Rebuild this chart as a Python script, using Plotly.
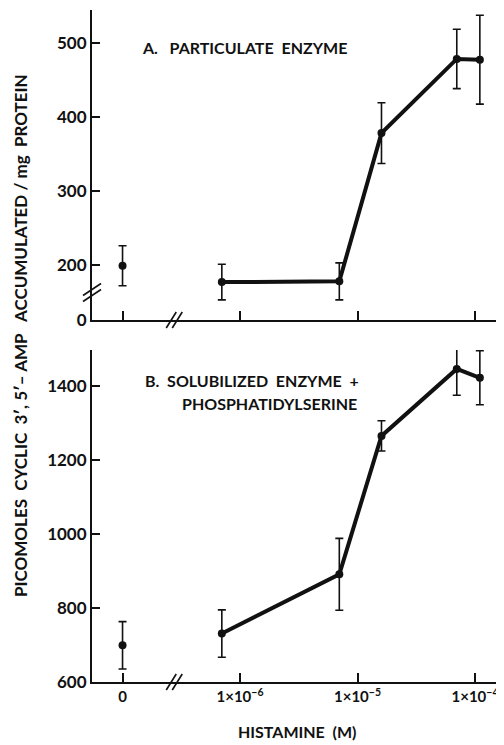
import numpy as np
import plotly.graph_objects as go

# ---------------- data ----------------
histamine_M = [0, 7e-7, 7e-6, 1.6e-5, 7e-5, 1.1e-4]

# Panel A: particulate enzyme
a_values = [199, 177, 178, 378, 478, 477]
a_errors = [27, 24, 25, 41, 40, 60]

# Panel B: solubilized enzyme + phosphatidylserine
b_values = [699, 731, 891, 1265, 1446, 1422]
b_errors = [64, 64, 97, 41, 71, 73]

x_tick_vals = [0, 1e-6, 1e-5, 1e-4]
x_tick_text = ["0", "1×10<sup>−6</sup>", "1×10<sup>−5</sup>", "1×10<sup>−4</sup>"]

a_tick_vals = [200, 300, 400, 500]
b_tick_vals = [600, 800, 1000, 1200, 1400]

# ---------------- axis-break mapping ----------------
ZERO_POS = -7.0          # where "0" concentration sits on the broken log axis
A_BREAK_BOTTOM = 125.9   # value where panel A's broken axis shows "0"


def xpos(c):
    return [ZERO_POS if v == 0 else float(np.log10(v)) for v in c]


xs = xpos(histamine_M)
xt = xpos(x_tick_vals)

FONT = "Lato"
BLACK = "#111111"

fig = go.Figure()


def add_panel(vals, errs, xa, ya):
    # isolated control point (0 M)
    fig.add_trace(go.Scatter(
        x=xs[:1], y=vals[:1], xaxis=xa, yaxis=ya, mode="markers",
        marker=dict(size=8, color=BLACK),
        error_y=dict(type="data", array=errs[:1], thickness=1.6, width=4, color=BLACK),
        showlegend=False, hoverinfo="skip"))
    # connected dose-response series
    fig.add_trace(go.Scatter(
        x=xs[1:], y=vals[1:], xaxis=xa, yaxis=ya, mode="lines+markers",
        line=dict(color=BLACK, width=4),
        marker=dict(size=8, color=BLACK),
        error_y=dict(type="data", array=errs[1:], thickness=1.6, width=4, color=BLACK),
        showlegend=False, hoverinfo="skip"))


add_panel(a_values, a_errors, "x", "y")
add_panel(b_values, b_errors, "x2", "y2")

tickfont = dict(family=FONT, size=17, color=BLACK, weight="bold")
xtickfont = dict(family=FONT, size=15, color=BLACK, weight="bold")
xrange = [-7.26, -3.753]

common_x = dict(range=xrange, showline=True, linewidth=2, linecolor=BLACK,
                ticks="inside", ticklen=9, tickwidth=2, tickcolor=BLACK,
                tickvals=xt, ticktext=x_tick_text, showgrid=False, zeroline=False,
                tickfont=xtickfont)
common_y = dict(showline=True, linewidth=2, linecolor=BLACK,
                ticks="inside", ticklen=8, tickwidth=2, tickcolor=BLACK,
                showgrid=False, zeroline=False, tickfont=tickfont)

# page body has an 8px default margin, so the figure is drawn 8px in from the corner
fig.update_layout(
    width=496, height=737,
    margin=dict(l=84, r=0, t=2, b=63),
    paper_bgcolor="white", plot_bgcolor="white",
    xaxis=dict(**common_x, anchor="y", showticklabels=False),
    yaxis=dict(**common_y, domain=[0.5387, 1.0], range=[A_BREAK_BOTTOM, 544],
               tickvals=[A_BREAK_BOTTOM] + a_tick_vals,
               ticktext=["0"] + [str(v) for v in a_tick_vals]),
    xaxis2=dict(**common_x, anchor="y2", showticklabels=True),
    yaxis2=dict(**common_y, domain=[0.0, 0.494], range=[600, 1497],
                tickvals=b_tick_vals, ticktext=[str(v) for v in b_tick_vals]),
)

label_font = dict(family=FONT, size=16, color=BLACK, weight="bold")
NB = "\u00a0"
annos = [
    dict(text=f"A.{NB*3}PARTICULATE{NB*2}ENZYME", x=0.1165, y=0.9435,
         xanchor="left", yanchor="middle"),
    dict(text=f"B.{NB*2}SOLUBILIZED{NB*2}ENZYME{NB*2}+", x=0.1238, y=0.4494,
         xanchor="left", yanchor="middle"),
    dict(text="PHOSPHATIDYLSERINE", x=0.2136, y=0.4137,
         xanchor="left", yanchor="middle"),
    dict(text=f"PICOMOLES{NB*2}CYCLIC{NB*2}3′,{NB}5′–{NB}AMP{NB*3}ACCUMULATED{NB}/{NB}mg{NB*2}PROTEIN",
         x=-0.1723, y=0.5149, textangle=-90, xanchor="center", yanchor="middle",
         font=dict(family=FONT, size=17, color=BLACK, weight="bold")),
    dict(text=f"HISTAMINE{NB*2}(M)", x=0.4976, y=-0.0744,
         xanchor="center", yanchor="middle"),
]
for a in annos:
    a.setdefault("font", label_font)
    fig.add_annotation(xref="paper", yref="paper", showarrow=False, **a)

# axis-break marks ("//")
X_BREAK = -6.56
for xr, yr in [("x", "y domain"), ("x2", "y2 domain")]:
    for off in (-3, 3):
        fig.add_shape(type="line", xref=xr, yref=yr,
                      xsizemode="pixel", ysizemode="pixel",
                      xanchor=X_BREAK, yanchor=0,
                      x0=off - 5, x1=off + 5, y0=-8, y1=8,
                      line=dict(color=BLACK, width=1.6))
Y_BREAK = 163
for off in (-3, 3):
    fig.add_shape(type="line", xref="x domain", yref="y",
                  xsizemode="pixel", ysizemode="pixel",
                  xanchor=0, yanchor=Y_BREAK,
                  x0=-9, x1=9, y0=off - 6, y1=off + 6,
                  line=dict(color=BLACK, width=1.6))

fig.write_html("out.html")
